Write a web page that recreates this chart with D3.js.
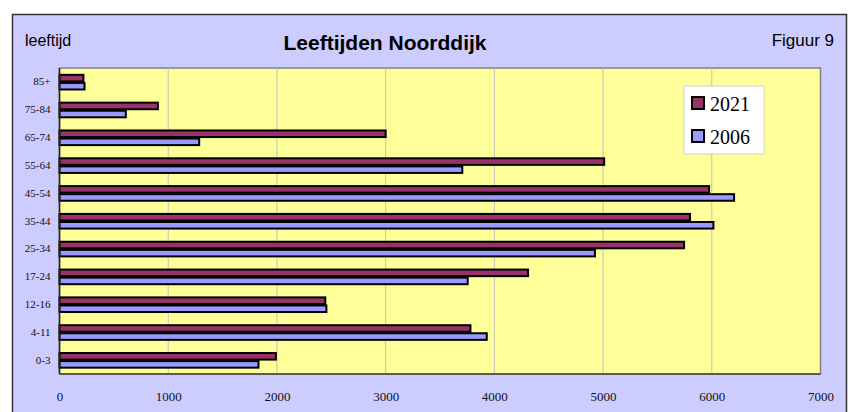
<!DOCTYPE html>
<html>
<head>
<meta charset="utf-8">
<script src="https://cdn.jsdelivr.net/npm/d3@7"></script>
<style>
  body { margin: 0; background: #fff; }
  svg { display: block; }
</style>
</head>
<body>
<svg id="chart" width="848" height="412"></svg>
<script>
// age groups, top to bottom as drawn
var categories = ['85+', '75-84', '65-74', '55-64', '45-54', '35-44', '25-34', '17-24', '12-16', '4-11', '0-3'];
var series = ['2021', '2006'];
var values2021 = [220, 905, 3000, 5010, 5975, 5800, 5745, 4310, 2445, 3780, 1990];
var values2006 = [230, 610, 1285, 3705, 6205, 6015, 4925, 3755, 2455, 3930, 1830];
var xTicks = [0, 1000, 2000, 3000, 4000, 5000, 6000, 7000];
var colors = { '2021': '#993366', '2006': '#9999ff' };

var rows = categories.map(function(c, i) {
  return { cat: c, '2021': values2021[i], '2006': values2006[i] };
});

var svg = d3.select('#chart');
var plot = { left: 59.5, top: 68, right: 820.5, bottom: 374 };

// outer frame
svg.append('rect')
  .attr('x', 12.5).attr('y', 14.5)
  .attr('width', 834).attr('height', 420)
  .attr('fill', '#ccccff')
  .attr('stroke', '#333').attr('stroke-width', 1.5);

svg.append('text')
  .attr('x', 25).attr('y', 46)
  .attr('font-family', 'Liberation Sans, Arial, sans-serif')
  .attr('font-size', 16)
  .text('leeftijd');

svg.append('text')
  .attr('x', 385).attr('y', 50)
  .attr('text-anchor', 'middle')
  .attr('font-family', 'Liberation Sans, Arial, sans-serif')
  .attr('font-size', 21).attr('font-weight', 'bold')
  .text('Leeftijden Noorddijk');

svg.append('text')
  .attr('x', 834).attr('y', 46)
  .attr('text-anchor', 'end')
  .attr('font-family', 'Liberation Sans, Arial, sans-serif')
  .attr('font-size', 17)
  .text('Figuur 9');

var x = d3.scaleLinear().domain([0, 7000]).range([plot.left, plot.right]);
var y = d3.scaleBand().domain(categories).range([plot.top, plot.bottom])
  .paddingInner(0.42).paddingOuter(0.21);
var ySub = d3.scaleBand().domain(series).range([0, y.bandwidth()]);

// plot area
svg.append('rect')
  .attr('x', plot.left).attr('y', plot.top)
  .attr('width', plot.right - plot.left).attr('height', plot.bottom - plot.top)
  .attr('fill', '#ffff99')
  .attr('stroke', '#808080').attr('stroke-width', 1.5);

// gridlines
svg.append('g')
  .selectAll('line')
  .data(xTicks.slice(1, -1))
  .join('line')
  .attr('x1', function(d) { return x(d); }).attr('x2', function(d) { return x(d); })
  .attr('y1', plot.top).attr('y2', plot.bottom)
  .attr('stroke', '#c0c0c0').attr('stroke-width', 1);

// bars
var groups = svg.append('g')
  .selectAll('g')
  .data(rows)
  .join('g')
  .attr('transform', function(d) { return 'translate(0,' + y(d.cat) + ')'; });

groups.selectAll('rect')
  .data(function(d) { return series.map(function(s) { return { key: s, value: d[s] }; }); })
  .join('rect')
  .attr('x', x(0))
  .attr('y', function(d) { return ySub(d.key) + 1; })
  .attr('width', function(d) { return x(d.value) - x(0); })
  .attr('height', ySub.bandwidth() - 1.5)
  .attr('fill', function(d) { return colors[d.key]; })
  .attr('stroke', '#000').attr('stroke-width', 2);

// axes lines
svg.append('line')
  .attr('x1', plot.left).attr('x2', plot.left)
  .attr('y1', plot.top).attr('y2', plot.bottom)
  .attr('stroke', '#222').attr('stroke-width', 1.5);
svg.append('line')
  .attr('x1', plot.left).attr('x2', plot.right)
  .attr('y1', plot.bottom).attr('y2', plot.bottom)
  .attr('stroke', '#444').attr('stroke-width', 1.5);

// axis labels via d3 axes
var xAxis = svg.append('g')
  .attr('transform', 'translate(0,' + (plot.bottom + 18) + ')')
  .call(d3.axisBottom(x).tickValues(xTicks).tickFormat(d3.format('d')).tickSize(0).tickPadding(0));
xAxis.select('.domain').remove();
xAxis.selectAll('text')
  .attr('font-family', 'Liberation Serif, Times New Roman, serif')
  .attr('font-size', 13).attr('fill', '#111');

var yAxis = svg.append('g')
  .attr('transform', 'translate(' + (plot.left - 9) + ',0)')
  .call(d3.axisLeft(y).tickSize(0).tickPadding(0));
yAxis.select('.domain').remove();
yAxis.selectAll('text')
  .attr('font-family', 'Liberation Serif, Times New Roman, serif')
  .attr('font-size', 11).attr('fill', '#111');

// legend
var legend = svg.append('g').attr('transform', 'translate(684,86)');
legend.append('rect')
  .attr('width', 80).attr('height', 68)
  .attr('fill', '#fff').attr('stroke', '#d0d0d0').attr('stroke-width', 1);
var li = legend.selectAll('g.item')
  .data(series)
  .join('g').attr('class', 'item')
  .attr('transform', function(d, i) { return 'translate(0,' + (i * 33) + ')'; });
li.append('rect')
  .attr('x', 8).attr('y', 11).attr('width', 12).attr('height', 12)
  .attr('fill', function(d) { return colors[d]; })
  .attr('stroke', '#000').attr('stroke-width', 2);
li.append('text')
  .attr('x', 26).attr('y', 24.5)
  .attr('font-family', 'Liberation Serif, Times New Roman, serif')
  .attr('font-size', 20)
  .text(function(d) { return d; });
</script>
</body>
</html>
